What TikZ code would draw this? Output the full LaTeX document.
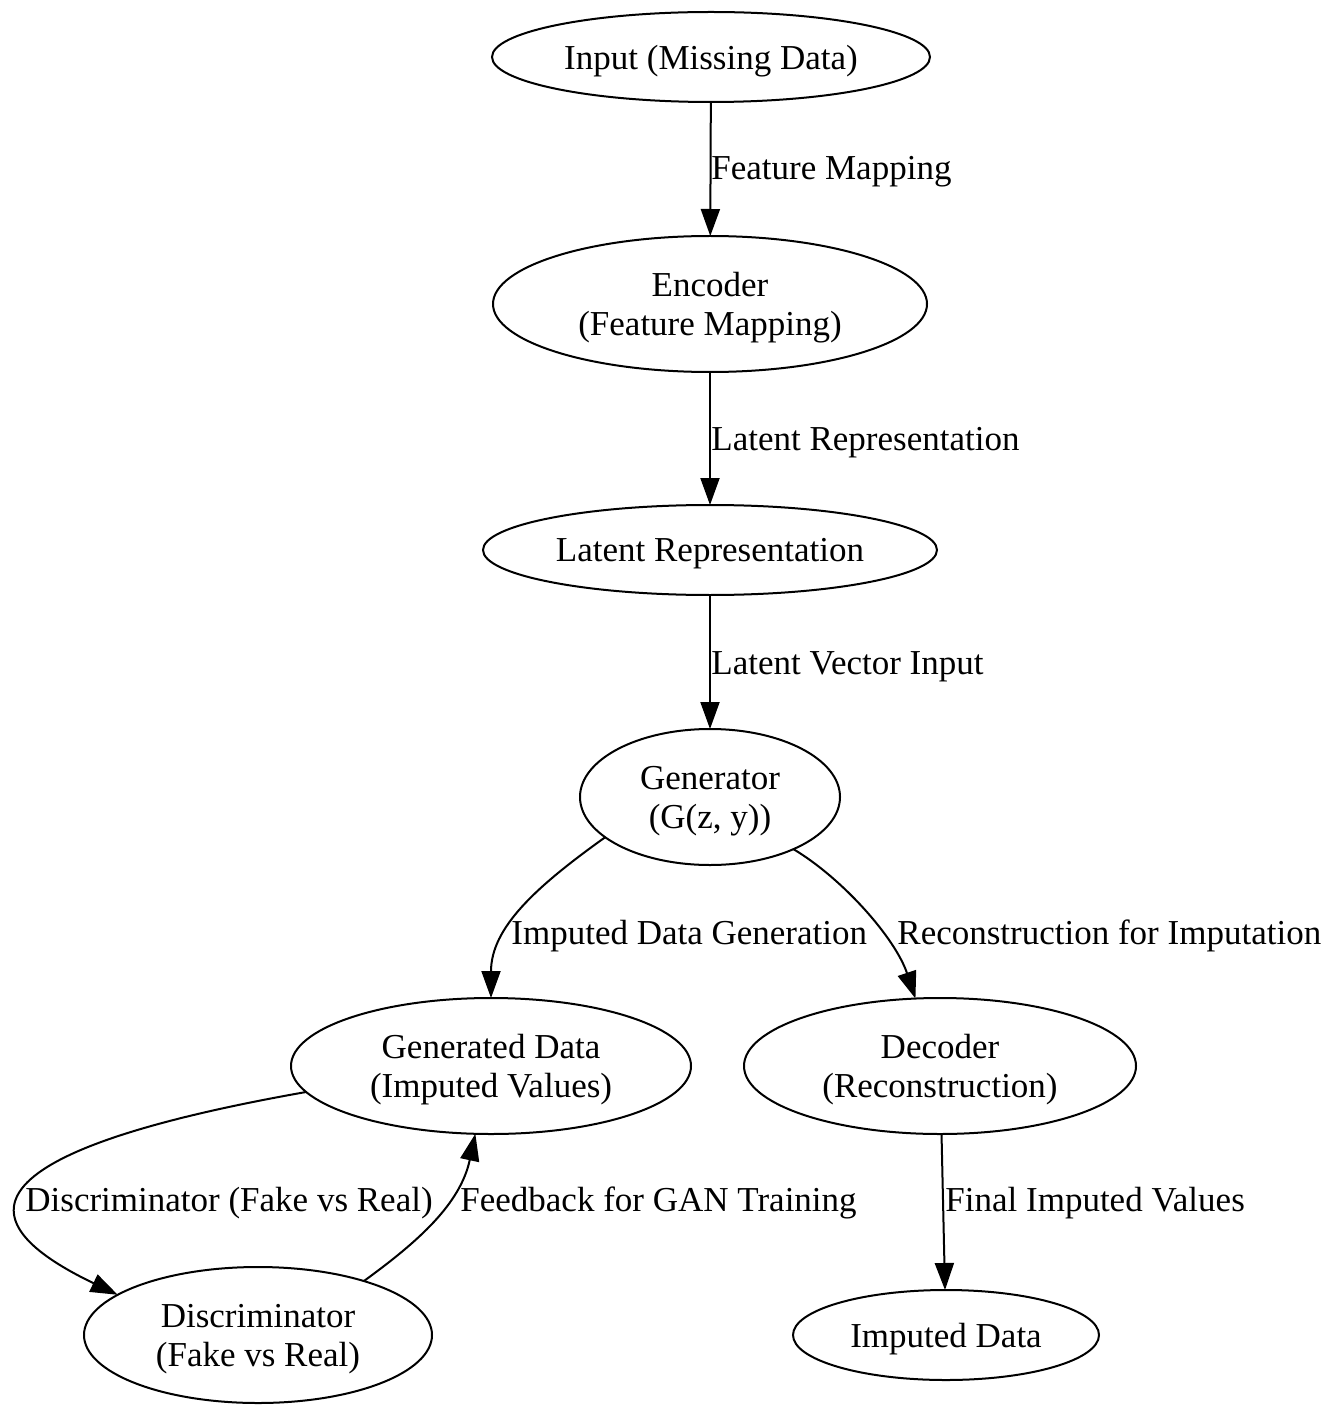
\documentclass[tikz,border=0pt]{standalone}
\usepackage{fontspec}
\setmainfont{Liberation Serif}
\usetikzlibrary{arrows.meta,shapes.geometric}

\begin{document}
\begin{tikzpicture}[x=0.5pt,y=-0.5pt,>={Triangle[length=13.5pt,width=9.5pt]}]
  \tikzset{stage/.style={ellipse, draw, line width=1pt, inner sep=0pt, outer sep=0pt, align=center, text depth=0pt, font=\fontsize{17.5}{19.5}\selectfont},
    flowedge/.style={->, line width=1pt},
    edgelabel/.style={anchor=west, inner sep=0pt, text depth=0pt, font=\fontsize{17.5}{19.5}\selectfont}}
  \useasboundingbox (0,0) rectangle (1338,1406);
  % stages
  \node[stage, minimum width=219pt, minimum height=45pt] (inp) at (711,57) {Input (Missing Data)};
  \node[stage, minimum width=217pt, minimum height=68pt] (enc) at (710,304) {Encoder\\(Feature Mapping)};
  \node[stage, minimum width=227pt, minimum height=45pt] (lat) at (710,550) {Latent Representation};
  \node[stage, minimum width=130pt, minimum height=68pt] (gen) at (710,797) {Generator\\(G(z, y))};
  \node[stage, minimum width=200pt, minimum height=68pt] (gdat) at (491,1066) {Generated Data\\(Imputed Values)};
  \node[stage, minimum width=196pt, minimum height=68pt] (dec) at (940,1066) {Decoder\\(Reconstruction)};
  \node[stage, minimum width=174pt, minimum height=68pt] (disc) at (258,1335) {Discriminator\\(Fake vs Real)};
  \node[stage, minimum width=153pt, minimum height=45pt] (imp) at (946,1335) {Imputed Data};
  % connectors
  \foreach \a/\b in {inp/enc,enc/lat,lat/gen,dec/imp}{\draw[flowedge] (\a) -- (\b);}
  \draw[flowedge] (gen.201) .. controls +(-70,50) and +(0,-70) .. (gdat.north);
  \draw[flowedge] (gen.328) .. controls +(50,30) and +(-20,-60) .. (dec.110);
  \draw[flowedge] (gdat.188) .. controls +(-385,68) and +(-125,-60) .. (disc.164);
  \draw[flowedge] (disc.27) .. controls +(55,-40) and +(-15,70) .. (gdat.257);
  % labels
  \node[edgelabel] (l1) at (711,168) {Feature Mapping};
  \node[edgelabel] (l2) at (711,439) {Latent Representation};
  \node[edgelabel] (l3) at (711,663) {Latent Vector Input};
  \node[edgelabel] (l4) at (511,932) {Imputed Data Generation};
  \node[edgelabel] (l5) at (897,932) {Reconstruction for Imputation};
  \node[edgelabel] (l6) at (25,1199) {Discriminator (Fake vs Real)};
  \node[edgelabel] (l7) at (460,1199) {Feedback for GAN Training};
  \node[edgelabel] (l8) at (945,1199) {Final Imputed Values};
\end{tikzpicture}
\end{document}
